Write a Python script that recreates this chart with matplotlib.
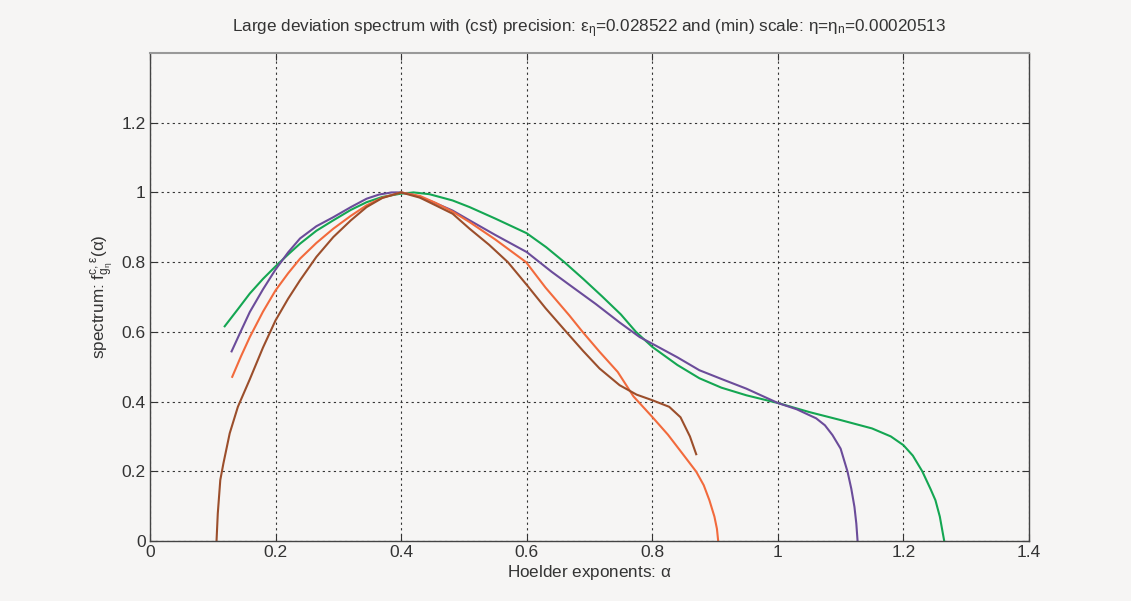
import matplotlib
matplotlib.use("Agg")
import matplotlib.pyplot as plt

# ---- data ----
green_a = [0.119, 0.140, 0.159, 0.180, 0.200, 0.220, 0.239, 0.265, 0.292, 0.320, 0.345, 0.370, 0.398, 0.420,
           0.445, 0.482, 0.509, 0.550, 0.600, 0.631, 0.660, 0.690, 0.720, 0.750, 0.774, 0.800, 0.840, 0.875,
           0.910, 0.950, 1.000, 1.050, 1.100, 1.150, 1.180, 1.200, 1.215, 1.230, 1.243, 1.251, 1.258, 1.262, 1.265]
green_f = [0.616, 0.665, 0.710, 0.752, 0.788, 0.822, 0.853, 0.890, 0.920, 0.950, 0.972, 0.987, 0.996, 1.000,
           0.995, 0.977, 0.958, 0.925, 0.883, 0.843, 0.800, 0.752, 0.702, 0.650, 0.600, 0.557, 0.505, 0.467,
           0.440, 0.418, 0.396, 0.370, 0.347, 0.323, 0.300, 0.275, 0.245, 0.200, 0.150, 0.117, 0.070, 0.030, 0.000]

purple_a = [0.130, 0.145, 0.159, 0.180, 0.200, 0.220, 0.239, 0.265, 0.292, 0.320, 0.345, 0.365, 0.385, 0.400,
            0.420, 0.450, 0.482, 0.509, 0.550, 0.600, 0.640, 0.668, 0.710, 0.748, 0.780, 0.800, 0.840, 0.875,
            0.910, 0.950, 1.000, 1.030, 1.061, 1.075, 1.087, 1.100, 1.111, 1.117, 1.122, 1.125, 1.127]
purple_f = [0.544, 0.603, 0.657, 0.722, 0.779, 0.828, 0.868, 0.903, 0.929, 0.958, 0.982, 0.994, 1.000, 1.000,
            0.993, 0.973, 0.948, 0.920, 0.878, 0.829, 0.772, 0.735, 0.680, 0.627, 0.585, 0.566, 0.527, 0.490,
            0.465, 0.437, 0.396, 0.378, 0.352, 0.332, 0.304, 0.265, 0.199, 0.150, 0.098, 0.050, 0.000]

orange_a = [0.131, 0.145, 0.159, 0.180, 0.200, 0.220, 0.239, 0.265, 0.292, 0.320, 0.345, 0.370, 0.400, 0.430,
            0.455, 0.482, 0.509, 0.550, 0.599, 0.630, 0.668, 0.689, 0.716, 0.745, 0.770, 0.800, 0.825, 0.848,
            0.870, 0.882, 0.891, 0.899, 0.903, 0.905]
orange_f = [0.471, 0.530, 0.585, 0.658, 0.719, 0.768, 0.810, 0.855, 0.896, 0.933, 0.963, 0.985, 1.000, 0.990,
            0.970, 0.945, 0.915, 0.865, 0.800, 0.727, 0.647, 0.600, 0.543, 0.485, 0.415, 0.356, 0.305, 0.251,
            0.199, 0.160, 0.117, 0.070, 0.035, 0.000]

brown_a = [0.106, 0.108, 0.112, 0.117, 0.127, 0.140, 0.159, 0.180, 0.200, 0.220, 0.239, 0.265, 0.292, 0.320,
           0.345, 0.370, 0.400, 0.430, 0.455, 0.482, 0.509, 0.540, 0.570, 0.600, 0.630, 0.663, 0.690, 0.716,
           0.748, 0.775, 0.800, 0.827, 0.845, 0.860, 0.870]
brown_f = [0.000, 0.079, 0.175, 0.223, 0.309, 0.385, 0.464, 0.555, 0.633, 0.695, 0.748, 0.815, 0.872, 0.920,
           0.958, 0.984, 1.000, 0.985, 0.963, 0.939, 0.896, 0.850, 0.800, 0.735, 0.668, 0.600, 0.545, 0.495,
           0.447, 0.420, 0.404, 0.385, 0.355, 0.300, 0.249]

x_ticks = [0, 0.2, 0.4, 0.6, 0.8, 1.0, 1.2, 1.4]
x_tick_labels = ["0", "0.2", "0.4", "0.6", "0.8", "1", "1.2", "1.4"]
y_ticks = [0, 0.2, 0.4, 0.6, 0.8, 1.0, 1.2]
y_tick_labels = ["0", "0.2", "0.4", "0.6", "0.8", "1", "1.2"]

plt.rcParams['font.family'] = ['Liberation Sans', 'DejaVu Sans']
plt.rcParams['mathtext.default'] = 'regular'
bg = '#f6f5f4'

fig = plt.figure(figsize=(11.31, 6.01), dpi=100, facecolor=bg)
ax = fig.add_axes([0.1326, 0.0998, 0.7772, 0.8120], facecolor=bg)

lw = 1.5
ax.plot(green_a, green_f, color='#14a652', lw=lw)
ax.plot(purple_a, purple_f, color='#6b4c9a', lw=lw)
ax.plot(orange_a, orange_f, color='#f26a3c', lw=lw)
ax.plot(brown_a, brown_f, color='#9b4e2b', lw=lw)

ax.set_xlim(0, 1.4)
ax.set_ylim(0, 1.4)
ax.set_xticks(x_ticks)
ax.set_xticklabels(x_tick_labels)
ax.set_yticks(y_ticks)
ax.set_yticklabels(y_tick_labels)
ax.tick_params(direction='in', top=True, right=True, labelsize=12.5, colors='#333333', length=5, width=0.8, pad=3)
ax.grid(True, color='#333333', linestyle=(0, (2, 3)), linewidth=0.8)
for s in ['left', 'bottom', 'right']:
    ax.spines[s].set_color('#444444')
    ax.spines[s].set_linewidth(1.0)
ax.spines['top'].set_color('#999999')
ax.spines['top'].set_linewidth(1.5)

ax.set_xlabel(r'Hoelder exponents: $\alpha$', fontsize=12.3, color='#333333', labelpad=2)
ax.set_ylabel(r'spectrum: f$^{c,\epsilon}_{g_{\eta}}$($\alpha$)', fontsize=12.3, color='#333333', labelpad=4)
ax.set_title(r'Large deviation spectrum with (cst) precision: $\epsilon_{\eta}$=0.028522 and (min) scale: $\eta$=$\eta_{n}$=0.00020513',
             fontsize=12.3, color='#333333', pad=15)

fig.savefig('out.png', dpi=100, facecolor=bg)
